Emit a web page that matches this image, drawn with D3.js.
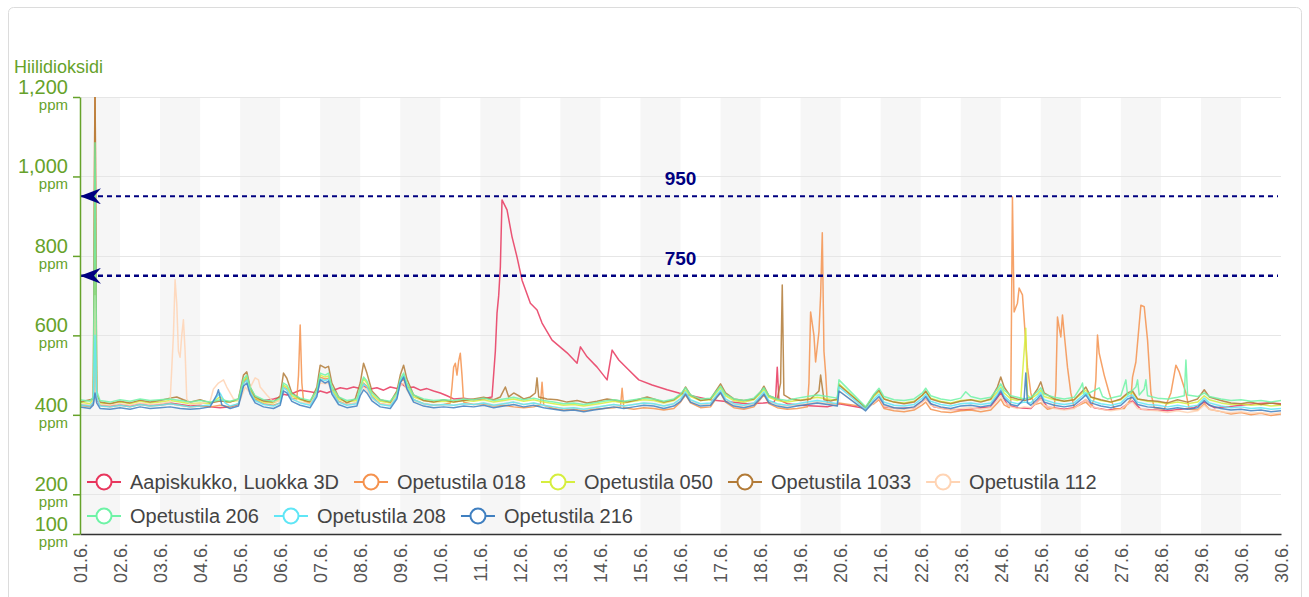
<!DOCTYPE html>
<html>
<head>
<meta charset="utf-8">
<script src="https://cdn.jsdelivr.net/npm/d3@7"></script>
<style>
  body { margin: 0; background: #fff; font-family: "Liberation Sans", Arial, sans-serif; }
</style>
</head>
<body>
<div class="chart"></div>
<script>
// Hiilidioksidi - kesakuu

// Tick Labels & Axis Values
var dayLabels = ["01.6.", "02.6.", "03.6.", "04.6.", "05.6.", "06.6.", "07.6.", "08.6.", "09.6.", "10.6.",
  "11.6.", "12.6.", "13.6.", "14.6.", "15.6.", "16.6.", "17.6.", "18.6.", "19.6.", "20.6.",
  "21.6.", "22.6.", "23.6.", "24.6.", "25.6.", "26.6.", "27.6.", "28.6.", "29.6.", "30.6.", "30.6."];
var yTicks = [1200, 1000, 800, 600, 400, 200, 100];
var thresholds = [950, 750];

// Series Names & Colours
var seriesNames = ["Aapiskukko, Luokka 3D", "Opetustila 018", "Opetustila 050", "Opetustila 1033",
  "Opetustila 112", "Opetustila 206", "Opetustila 208", "Opetustila 216"];
var seriesColors = ["#e8365d", "#f5924e", "#d6ee3e", "#b27a36", "#ffd4b4", "#6ef3a6", "#5fe6f6", "#3f7fc0"];

// Series Values: [hours from 1.6. 00:00, ppm]
var aapiskukko = [[0,426],[6,422],[8,430],[9,720],[10,440],[12,424],[18,422],[24,426],[30,422],[36,428],[42,424],[48,426],[54,430],[60,426],[66,422],[72,424],[78,420],[84,418],[90,420],[95,426],[98,480],[100,495],[102,460],[105,440],[110,436],[116,440],[120,444],[122,452],[124,450],[128,455],[132,462],[138,458],[142,455],[144,460],[148,455],[152,462],[156,468],[160,465],[164,470],[168,466],[170,472],[174,465],[178,468],[182,462],[186,470],[190,466],[193,478],[196,468],[200,470],[204,462],[208,466],[212,460],[216,455],[220,448],[224,440],[230,442],[236,438],[242,440],[246,444],[247,445],[249,560],[250,656],[251,700],[252,772],[253,941],[256,916],[259,848],[262,797],[265,739],[270,681],[274,664],[277,631],[283,588],[292,556],[298,530],[300,571],[304,546],[310,520],[316,488],[319,563],[323,538],[329,513],[335,488],[343,475],[352,463],[359,455],[370,445],[379,437],[390,432],[400,428],[410,430],[416,432],[417,440],[418,520],[419,438],[424,428],[432,424],[440,422],[448,420],[455,428],[471,416],[476,430],[479,440],[482,420],[490,416],[500,418],[507,440],[512,420],[520,414],[530,412],[540,418],[546,420],[552,455],[556,425],[562,418],[570,416],[576,442],[580,420],[590,414],[596,418],[603,438],[608,418],[616,412],[624,416],[631,435],[636,414],[644,412],[652,410],[660,414],[668,418],[674,432],[680,418],[688,420],[696,424],[704,428],[712,430],[720,428]];

var opetustila018 = [[0,424],[6,420],[8,432],[9,1260],[10,450],[12,424],[18,420],[24,424],[30,420],[36,426],[42,422],[48,424],[54,428],[60,424],[66,420],[72,422],[78,420],[84,424],[90,420],[95,428],[98,480],[100,490],[102,460],[105,438],[110,428],[116,424],[120,430],[122,470],[124,465],[127,442],[130,440],[131,500],[132,626],[133,480],[134,436],[138,428],[142,455],[144,495],[147,490],[149,492],[151,460],[155,434],[160,426],[166,430],[168,460],[170,480],[172,472],[175,446],[180,428],[186,424],[190,448],[192,482],[194,490],[196,468],[200,438],[206,428],[212,424],[218,426],[222,430],[223,470],[224,520],[225,530],[226,500],[227,535],[228,555],[229,500],[230,432],[236,426],[242,428],[248,422],[254,424],[260,420],[266,418],[272,420],[276,425],[277,482],[278,424],[284,416],[290,412],[296,414],[302,410],[308,414],[314,416],[320,418],[324,420],[325,467],[326,418],[332,414],[338,418],[344,416],[350,412],[356,416],[360,432],[363,450],[366,430],[372,418],[378,420],[382,445],[384,455],[387,432],[392,418],[398,414],[404,420],[408,440],[410,450],[413,428],[418,418],[424,414],[430,416],[436,420],[437,480],[438,659],[440,600],[441,533],[443,609],[444,700],[445,858],[446,560],[447,505],[448,430],[454,426],[455,430],[471,420],[476,428],[479,438],[482,416],[488,410],[494,408],[500,412],[505,425],[507,432],[510,414],[516,408],[522,406],[528,410],[534,412],[540,408],[546,412],[550,430],[552,440],[554,425],[557,418],[558,430],[559,948],[560,659],[561,670],[562,681],[563,719],[565,702],[568,520],[570,455],[572,425],[576,430],[580,414],[584,418],[585,462],[586,646],[587,620],[588,596],[589,651],[590,606],[592,520],[594,455],[596,418],[601,428],[603,432],[606,420],[608,440],[609,488],[610,601],[611,555],[614,500],[617,455],[620,415],[626,416],[630,440],[631,495],[633,533],[636,676],[638,672],[640,588],[642,455],[644,418],[650,414],[654,455],[657,525],[659,508],[663,455],[665,414],[670,412],[674,428],[677,414],[684,408],[690,402],[696,406],[702,400],[708,404],[714,398],[720,402]];

var opetustila050 = [[0,432],[6,428],[8,440],[9,820],[10,452],[12,430],[18,428],[24,432],[30,428],[36,434],[42,430],[48,432],[54,436],[60,432],[66,428],[72,430],[78,428],[84,445],[88,432],[95,436],[98,485],[100,495],[102,465],[105,442],[110,432],[116,430],[120,438],[122,475],[124,470],[127,448],[132,438],[138,432],[142,458],[144,500],[147,495],[149,498],[151,465],[155,440],[160,432],[166,436],[168,465],[170,490],[172,480],[175,450],[180,434],[186,430],[190,450],[192,488],[194,500],[196,475],[200,445],[206,436],[212,432],[218,434],[224,432],[230,436],[236,434],[242,438],[248,432],[254,436],[260,440],[266,434],[272,438],[278,432],[284,428],[290,424],[296,426],[302,422],[308,426],[314,430],[320,434],[326,430],[332,434],[338,438],[344,436],[350,430],[356,436],[360,448],[363,462],[366,446],[372,436],[378,438],[382,458],[384,468],[387,448],[392,436],[398,432],[404,438],[408,454],[410,464],[413,444],[418,436],[424,432],[430,436],[436,440],[442,444],[448,440],[454,436],[455,478],[471,418],[476,446],[479,458],[482,440],[488,432],[494,430],[500,434],[505,448],[507,458],[510,442],[516,434],[522,430],[528,436],[534,438],[540,434],[546,438],[550,458],[552,470],[554,455],[558,440],[562,436],[564,440],[566,560],[567,618],[568,450],[570,440],[574,452],[576,462],[578,446],[584,438],[590,434],[596,438],[601,455],[603,462],[606,444],[612,436],[618,432],[624,438],[628,452],[631,456],[634,440],[640,434],[646,432],[652,428],[658,432],[664,428],[670,432],[674,448],[677,438],[684,430],[690,426],[696,428],[702,424],[708,426],[714,422],[720,424]];

var opetustila1033 = [[0,432],[4,436],[8,440],[9,1260],[10,450],[12,432],[18,428],[24,434],[30,430],[36,437],[42,432],[48,436],[54,442],[58,445],[62,438],[66,432],[72,438],[78,430],[84,435],[90,432],[95,440],[98,500],[100,508],[102,470],[105,445],[110,435],[116,432],[120,448],[122,505],[124,492],[127,455],[132,440],[138,432],[142,470],[144,525],[147,518],[149,522],[151,480],[155,445],[160,430],[165,440],[168,480],[170,530],[172,505],[175,460],[180,438],[186,432],[190,460],[192,500],[194,525],[196,490],[200,450],[206,436],[212,432],[218,438],[224,432],[230,436],[236,440],[242,444],[248,438],[252,445],[255,470],[257,445],[260,455],[263,448],[266,440],[270,445],[273,455],[274,493],[275,445],[280,440],[286,438],[292,432],[298,436],[304,430],[310,434],[316,440],[322,436],[328,432],[334,438],[340,445],[344,440],[350,432],[356,438],[361,455],[363,470],[366,450],[372,436],[378,440],[382,465],[384,478],[387,455],[392,440],[398,436],[404,440],[408,458],[410,472],[413,448],[418,440],[420,480],[421,727],[422,450],[426,440],[432,436],[438,440],[443,460],[444,500],[446,438],[450,435],[454,440],[455,475],[471,418],[476,450],[479,462],[482,440],[488,432],[494,428],[500,432],[505,450],[507,460],[510,440],[516,432],[522,428],[528,434],[534,438],[540,432],[546,440],[550,470],[552,495],[554,470],[558,445],[562,440],[566,436],[570,440],[574,465],[576,483],[578,455],[584,440],[590,434],[596,438],[601,460],[603,470],[606,445],[612,438],[618,432],[624,440],[628,455],[631,460],[634,440],[640,436],[646,434],[652,430],[658,438],[664,432],[670,440],[674,463],[677,445],[684,436],[690,430],[696,428],[702,432],[708,426],[714,430],[720,426]];

var opetustila112 = [[0,428],[6,424],[8,434],[9,700],[10,445],[12,426],[18,424],[24,428],[30,424],[36,430],[42,426],[48,428],[54,432],[56,600],[57,740],[58,680],[59,560],[60,545],[61,600],[62,639],[63,560],[64,440],[66,426],[72,428],[78,434],[80,465],[83,480],[86,488],[88,470],[92,440],[96,436],[99,470],[101,460],[104,485],[105,493],[107,488],[108,470],[112,450],[116,432],[120,436],[122,468],[124,462],[127,440],[132,432],[138,428],[142,455],[144,480],[147,478],[149,480],[151,455],[155,432],[160,426],[166,430],[168,455],[170,470],[172,462],[175,440],[180,428],[186,424],[190,448],[192,475],[194,480],[196,462],[200,436],[206,428],[212,424],[218,426],[224,424],[230,428],[236,426],[242,430],[248,424],[254,428],[260,432],[266,426],[272,430],[278,424],[284,420],[290,416],[296,418],[302,414],[308,418],[314,422],[320,426],[326,422],[332,426],[338,430],[344,428],[350,422],[356,428],[360,440],[363,455],[366,436],[372,426],[378,428],[382,450],[384,460],[387,438],[392,426],[398,422],[404,428],[408,444],[410,455],[413,434],[418,426],[424,422],[430,426],[436,428],[442,432],[448,428],[454,424],[455,460],[471,412],[476,430],[479,442],[482,422],[488,416],[494,414],[500,418],[505,432],[507,440],[510,424],[516,416],[522,412],[528,416],[534,418],[540,414],[546,418],[550,436],[552,448],[554,432],[558,420],[562,416],[566,420],[570,418],[574,432],[576,440],[578,424],[584,416],[590,412],[596,416],[601,432],[603,440],[606,422],[612,414],[618,410],[624,414],[628,428],[631,432],[634,416],[640,412],[646,410],[652,406],[658,410],[664,406],[670,410],[674,424],[677,414],[684,408],[690,405],[696,408],[702,404],[708,406],[714,402],[720,405]];

var opetustila206 = [[0,438],[6,434],[8,445],[9,1085],[10,460],[12,436],[18,432],[24,438],[30,434],[36,440],[42,436],[48,438],[54,440],[60,436],[66,432],[72,436],[78,432],[84,438],[90,434],[95,440],[98,490],[100,500],[102,470],[105,448],[110,438],[116,434],[120,442],[122,480],[124,475],[127,452],[132,442],[138,436],[142,462],[144,505],[147,500],[149,505],[151,470],[155,445],[160,436],[166,440],[168,470],[170,495],[172,485],[175,455],[180,438],[186,434],[190,455],[192,490],[194,505],[196,480],[200,450],[206,440],[212,436],[218,438],[224,436],[230,440],[236,438],[242,442],[248,436],[254,440],[260,444],[266,438],[272,442],[278,436],[284,432],[290,428],[296,430],[302,426],[308,430],[314,434],[320,438],[326,434],[332,438],[338,442],[344,440],[350,434],[356,440],[360,452],[363,468],[366,450],[372,440],[378,442],[382,462],[384,472],[387,452],[392,440],[398,436],[404,442],[408,458],[410,468],[413,448],[418,440],[424,436],[430,442],[436,446],[442,450],[448,446],[454,442],[455,488],[471,420],[476,452],[479,467],[482,446],[488,438],[494,436],[500,440],[505,455],[507,467],[510,448],[516,440],[522,436],[528,442],[531,458],[534,446],[540,440],[546,444],[550,465],[552,478],[554,462],[558,448],[562,444],[566,440],[570,444],[574,458],[576,468],[578,452],[584,444],[590,440],[596,444],[600,470],[601,480],[602,450],[605,455],[611,468],[613,446],[616,440],[620,444],[624,448],[627,488],[628,450],[633,470],[634,488],[635,450],[638,465],[639,488],[640,448],[646,442],[652,440],[658,444],[662,448],[663,538],[664,450],[670,446],[674,455],[677,446],[684,440],[690,436],[696,438],[702,434],[708,436],[714,432],[720,436]];

var opetustila208 = [[0,425],[6,422],[8,432],[9,600],[10,445],[12,422],[18,420],[24,424],[30,420],[36,426],[42,422],[48,424],[54,428],[60,424],[66,420],[72,422],[78,425],[82,445],[84,455],[87,430],[90,422],[95,428],[98,478],[100,488],[102,458],[105,436],[110,426],[116,422],[120,430],[122,468],[124,462],[127,440],[132,430],[138,424],[142,452],[144,490],[147,486],[149,490],[151,458],[155,432],[160,424],[166,428],[168,458],[170,478],[172,470],[175,444],[180,426],[186,422],[190,445],[192,485],[194,498],[196,470],[200,438],[206,428],[212,424],[218,426],[224,424],[230,428],[236,426],[242,430],[248,424],[254,428],[260,432],[266,426],[272,430],[278,424],[284,420],[290,416],[296,418],[302,414],[308,418],[314,422],[320,426],[326,422],[332,426],[338,430],[344,428],[350,422],[356,428],[360,440],[363,458],[366,438],[372,428],[378,430],[382,452],[384,462],[387,440],[392,428],[398,424],[404,430],[408,448],[410,458],[413,436],[418,428],[424,424],[430,428],[436,432],[442,436],[448,432],[454,428],[455,470],[471,414],[476,440],[479,452],[482,432],[488,424],[494,422],[500,426],[505,442],[507,452],[510,434],[516,426],[522,422],[528,428],[534,430],[540,426],[546,430],[550,452],[552,466],[554,448],[558,432],[562,428],[566,432],[570,430],[574,446],[576,456],[578,438],[584,430],[590,426],[596,430],[601,448],[603,456],[606,436],[612,428],[618,424],[624,430],[628,446],[631,450],[634,432],[640,426],[646,424],[652,420],[658,424],[664,420],[670,424],[674,442],[677,430],[684,422],[690,418],[696,420],[702,416],[708,418],[714,414],[720,416]];

var opetustila216 = [[0,420],[6,416],[8,425],[9,455],[10,430],[12,416],[18,414],[24,418],[30,414],[36,420],[42,416],[48,418],[54,420],[60,416],[66,414],[72,416],[78,420],[82,450],[83,463],[85,425],[90,416],[95,422],[98,472],[100,480],[102,452],[105,430],[110,420],[116,416],[120,424],[122,460],[124,455],[127,434],[132,424],[138,418],[142,446],[144,488],[147,480],[149,485],[151,452],[155,426],[160,418],[166,422],[168,448],[170,463],[172,455],[175,435],[180,420],[186,416],[190,440],[192,480],[194,495],[196,465],[200,432],[206,422],[212,418],[218,420],[224,418],[230,422],[236,420],[242,424],[248,418],[254,422],[260,426],[266,420],[272,424],[278,418],[284,414],[290,410],[296,412],[302,408],[308,412],[314,416],[320,420],[326,416],[332,420],[338,424],[344,422],[350,416],[356,422],[360,434],[363,452],[366,432],[372,422],[378,424],[382,446],[384,456],[387,434],[392,422],[398,418],[404,424],[408,442],[410,452],[413,430],[418,422],[424,418],[430,422],[436,426],[442,430],[448,426],[454,422],[455,460],[471,410],[476,434],[479,446],[482,426],[488,418],[494,416],[500,420],[505,436],[507,446],[510,428],[516,420],[522,416],[528,422],[534,424],[540,420],[546,424],[550,446],[552,460],[554,442],[558,426],[562,422],[566,440],[567,505],[568,430],[570,424],[574,440],[576,450],[578,432],[584,424],[590,420],[596,424],[601,442],[603,450],[606,430],[612,422],[618,418],[624,424],[628,440],[631,444],[634,426],[640,420],[646,418],[652,414],[658,418],[664,414],[670,418],[674,436],[677,424],[684,416],[690,412],[696,414],[702,410],[708,412],[714,408],[720,410]];

var seriesValues = [aapiskukko, opetustila018, opetustila050, opetustila1033,
  opetustila112, opetustila206, opetustila208, opetustila216];

// Setup Chart Parameters/Dimensions
var svgWidth = 1309;
var svgHeight = 597;
var margin = { top: 97, right: 28, bottom: 63, left: 80 };
var width = svgWidth - margin.left - margin.right;
var height = svgHeight - margin.top - margin.bottom;
var green = "#66a22a";
var navy = "#000080";

var svg = d3.select(".chart")
  .append("svg")
  .attr("width", svgWidth)
  .attr("height", svgHeight);

// Card Border
svg.append("rect")
  .attr("x", 8.5)
  .attr("y", 7.5)
  .attr("width", 1293)
  .attr("height", 620)
  .attr("rx", 5)
  .attr("fill", "#fff")
  .attr("stroke", "#dcdcdc");

var chartGroup = svg.append("g")
  .attr("transform", `translate(${margin.left}, ${margin.top})`);

// Scales
var xScale = d3.scaleLinear().domain([0, 720]).range([0, width]);
var yScale = d3.scaleLinear().domain([100, 1200]).range([height, 0]);

// Alternating Day Bands
var dayIndex = d3.range(0, dayLabels.length - 1);
chartGroup.selectAll(".band")
  .data(dayIndex.filter(d => d % 2 === 0))
  .enter()
  .append("rect")
  .attr("class", "band")
  .attr("x", d => xScale(d * 24))
  .attr("y", 0)
  .attr("width", d => xScale((d + 1) * 24) - xScale(d * 24))
  .attr("height", height)
  .attr("fill", "#f6f6f6");

// Horizontal Grid Lines
chartGroup.selectAll(".grid")
  .data(yTicks.filter(d => d > 100))
  .enter()
  .append("line")
  .attr("x1", 0)
  .attr("x2", width)
  .attr("y1", d => Math.round(yScale(d)) + 0.5)
  .attr("y2", d => Math.round(yScale(d)) + 0.5)
  .attr("stroke", "#e6e6e6");

// Threshold Arrow & Clip
var defs = svg.append("defs");
defs.append("marker")
  .attr("id", "arrow")
  .attr("viewBox", "0 -8 21 16")
  .attr("refX", 0)
  .attr("refY", 0)
  .attr("markerWidth", 21)
  .attr("markerHeight", 16)
  .attr("markerUnits", "userSpaceOnUse")
  .attr("orient", "auto")
  .append("path")
  .attr("d", "M21,-8L0,0L21,8L14,0Z")
  .attr("fill", navy);

defs.append("clipPath")
  .attr("id", "plot-clip")
  .append("rect")
  .attr("x", 0)
  .attr("y", 0)
  .attr("width", width)
  .attr("height", height);

// Series Lines
var line = d3.line()
  .x(d => xScale(d[0]))
  .y(d => yScale(d[1]));

var linesGroup = chartGroup.append("g").attr("clip-path", "url(#plot-clip)");
linesGroup.selectAll(".series")
  .data(seriesValues)
  .enter()
  .append("path")
  .attr("class", "series")
  .attr("d", line)
  .attr("fill", "none")
  .attr("stroke", (d, i) => seriesColors[i])
  .attr("stroke-width", 1.5)
  .attr("stroke-linejoin", "round")
  .attr("opacity", 0.85);

// Threshold Lines
chartGroup.selectAll(".threshold")
  .data(thresholds)
  .enter()
  .append("line")
  .attr("class", "threshold")
  .attr("x1", 0)
  .attr("x2", width - 3)
  .attr("y1", d => yScale(d))
  .attr("y2", d => yScale(d))
  .attr("stroke", navy)
  .attr("stroke-width", (d, i) => i === 0 ? 2 : 2.5)
  .attr("stroke-dasharray", "5,4")
  .attr("marker-start", "url(#arrow)");

chartGroup.selectAll(".threshold-label")
  .data(thresholds)
  .enter()
  .append("text")
  .attr("x", width / 2)
  .attr("y", d => yScale(d) - 11)
  .attr("text-anchor", "middle")
  .attr("fill", navy)
  .attr("font-size", "19px")
  .attr("font-weight", "bold")
  .text(d => d);

// X Axis
var xAxis = chartGroup.append("g")
  .attr("transform", `translate(0, ${height})`)
  .call(d3.axisBottom(xScale)
    .tickValues(dayLabels.map((d, i) => i * 24))
    .tickFormat((d, i) => dayLabels[i])
    .tickSize(0)
    .tickPadding(0));
xAxis.select(".domain").attr("stroke", "#333").attr("stroke-width", 1.5);
xAxis.selectAll("text")
  .attr("transform", "rotate(-90)")
  .attr("text-anchor", "end")
  .attr("x", -9)
  .attr("y", 0)
  .attr("dy", "0.35em")
  .attr("fill", "#555")
  .attr("font-size", "18px")
  .attr("font-family", "Liberation Sans, Arial, sans-serif");

// Y Axis
var yAxis = chartGroup.append("g")
  .call(d3.axisLeft(yScale)
    .tickValues(yTicks)
    .tickFormat("")
    .tickSize(7)
    .tickSizeOuter(0));
yAxis.selectAll("line").attr("stroke", green).attr("stroke-width", 1.5);
yAxis.select(".domain").attr("stroke", green).attr("stroke-width", 1.5);

var yLabels = chartGroup.selectAll(".y-label")
  .data(yTicks)
  .enter()
  .append("g")
  .attr("class", "y-label")
  .attr("transform", d => `translate(-12, ${yScale(d)})`);
yLabels.append("text")
  .attr("y", -3)
  .attr("text-anchor", "end")
  .attr("fill", green)
  .attr("font-size", "20px")
  .text(d => d3.format(",")(d));
yLabels.append("text")
  .attr("y", 13)
  .attr("text-anchor", "end")
  .attr("fill", green)
  .attr("font-size", "15px")
  .text("ppm");

svg.append("text")
  .attr("x", 14)
  .attr("y", 73)
  .attr("fill", green)
  .attr("font-size", "18px")
  .text("Hiilidioksidi");

// Legend
var legend = svg.append("g");
var lx = 87, ly = 482;
seriesNames.forEach(function(name, i) {
  var item = legend.append("g");
  item.append("line")
    .attr("x1", 0).attr("x2", 34)
    .attr("y1", 0).attr("y2", 0)
    .attr("stroke", seriesColors[i])
    .attr("stroke-width", 2);
  item.append("circle")
    .attr("cx", 17).attr("cy", 0).attr("r", 7.5)
    .attr("fill", "#fff")
    .attr("stroke", seriesColors[i])
    .attr("stroke-width", 2);
  var label = item.append("text")
    .attr("x", 43)
    .attr("y", 7)
    .attr("fill", "#444")
    .attr("font-size", "20px")
    .text(name);
  var w = 43 + label.node().getComputedTextLength();
  if (lx + w > 1200) {
    lx = 87;
    ly += 34;
  }
  item.attr("transform", `translate(${lx}, ${ly})`);
  lx += w + 15;
});
</script>
</body>
</html>
